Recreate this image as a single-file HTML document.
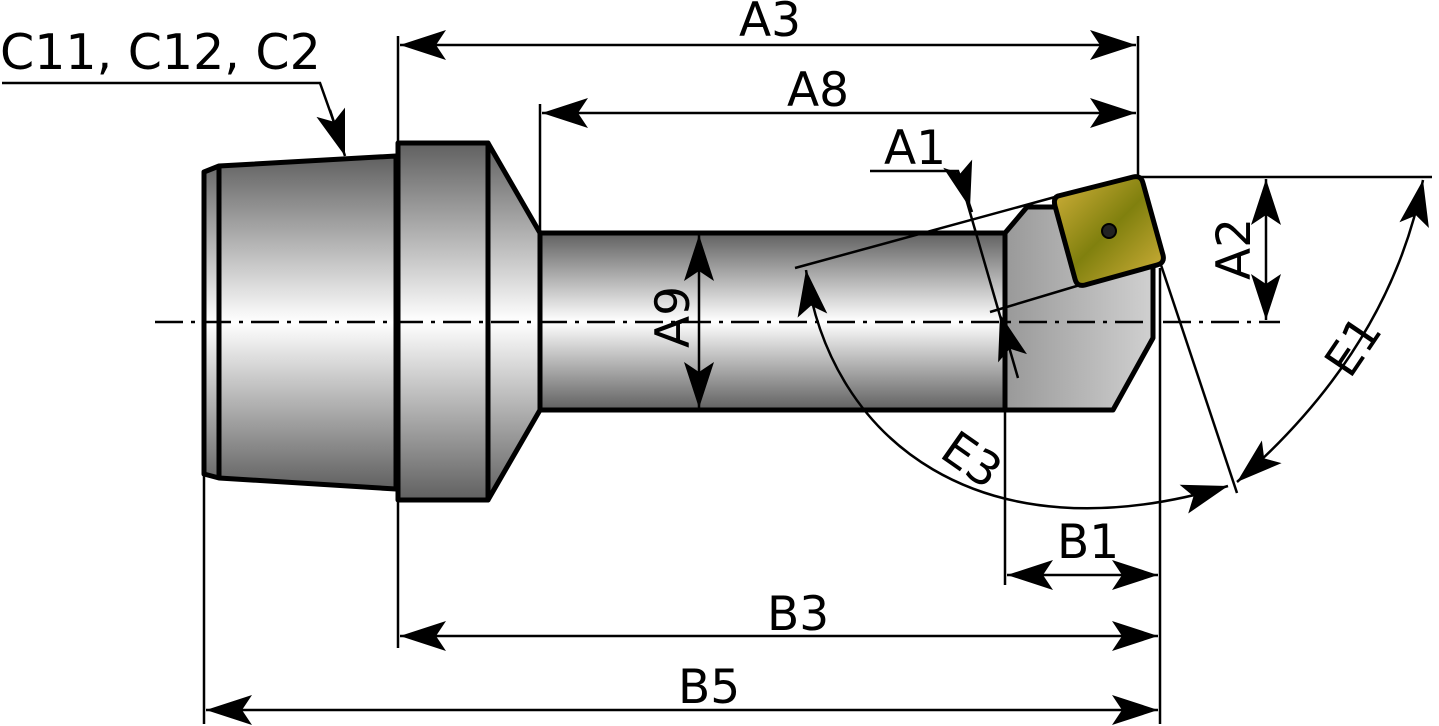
<!DOCTYPE html>
<html><head><meta charset="utf-8"><style>
html,body{margin:0;padding:0;background:#fff}
svg{display:block}
text{font-family:"DejaVu Sans","Liberation Sans",sans-serif;font-size:47px;fill:#000}
</style></head><body>
<svg width="1439" height="726" viewBox="0 0 1439 726" xmlns="http://www.w3.org/2000/svg">
<defs>
<linearGradient id="gv" x1="0" y1="0" x2="0" y2="1">
<stop offset="0" stop-color="#606060"/><stop offset="0.5" stop-color="#fff"/><stop offset="1" stop-color="#606060"/>
</linearGradient>
<linearGradient id="gh" x1="0" y1="0" x2="1" y2="0">
<stop offset="0" stop-color="#999"/><stop offset="1" stop-color="#d0d0d0"/>
</linearGradient>
<linearGradient id="gi" x1="0" y1="0" x2="1" y2="1">
<stop offset="0" stop-color="#d4b23c"/><stop offset="0.5" stop-color="#80800e"/><stop offset="1" stop-color="#d4b23c"/>
</linearGradient>
<marker id="ar" markerUnits="userSpaceOnUse" markerWidth="50" markerHeight="40" refX="0" refY="0" viewBox="-50 -20 50 40" orient="auto-start-reverse" overflow="visible">
<path d="M0,0 L-46,-15 L-36,0 L-46,15 z" fill="#000"/>
</marker>
</defs>

<g stroke="#000" stroke-width="5" stroke-linejoin="round">
<path d="M204,172 L219,166 L396,156 L396,489 L219,478 L204,474 Z" fill="url(#gv)"/>
<line x1="219" y1="166" x2="219" y2="478"/>
<rect x="398" y="143" width="90" height="357" fill="url(#gv)"/>
<path d="M488,143 L540,233 L540,410 L488,500 Z" fill="url(#gv)"/>
<rect x="540" y="233" width="465" height="177" fill="url(#gv)"/>
<path d="M1005,233 L1027,207 L1070,207 L1153,262 L1153,338 L1113,410 L1005,410 Z" fill="url(#gh)"/>
<path d="M1058,196 L1133,177 Q1141,175 1143,183 L1163,255 Q1165,263 1157,265 L1085,285 Q1077,287 1075,279 L1055,206 Q1053,198 1058,196 Z" fill="url(#gi)"/>
</g>
<circle cx="1109" cy="231" r="7" fill="#222" stroke="#000" stroke-width="2"/>

<line x1="155" y1="322" x2="1280" y2="322" stroke="#000" stroke-width="2.5" stroke-dasharray="28,8,4,8"/>

<g stroke="#000" stroke-width="2.5" fill="none">
<line x1="398" y1="36" x2="398" y2="648"/>
<line x1="1138" y1="36" x2="1138" y2="178"/>
<line x1="540" y1="104" x2="540" y2="233"/>
<line x1="204" y1="474" x2="204" y2="724"/>
<line x1="1160" y1="268" x2="1160" y2="724"/>
<line x1="1005" y1="410" x2="1005" y2="585"/>
<line x1="1138" y1="177" x2="1432" y2="177"/>
<line x1="795" y1="268" x2="1055" y2="197"/>
<line x1="990" y1="312" x2="1080" y2="285"/>
<line x1="1160" y1="262" x2="1237" y2="493"/>
<line x1="400" y1="45" x2="1136" y2="45" marker-start="url(#ar)" marker-end="url(#ar)"/>
<line x1="542" y1="113" x2="1136" y2="113" marker-start="url(#ar)" marker-end="url(#ar)"/>
<line x1="400" y1="636" x2="1158" y2="636" marker-start="url(#ar)" marker-end="url(#ar)"/>
<line x1="206" y1="710" x2="1158" y2="710" marker-start="url(#ar)" marker-end="url(#ar)"/>
<line x1="1007" y1="575" x2="1158" y2="575" marker-start="url(#ar)" marker-end="url(#ar)"/>
<line x1="699" y1="235" x2="699" y2="408" marker-start="url(#ar)" marker-end="url(#ar)"/>
<line x1="1266" y1="179" x2="1266" y2="320" marker-start="url(#ar)" marker-end="url(#ar)"/>
<polyline points="2,83 320,83 336,128"/>
<line x1="330" y1="110" x2="345" y2="156" marker-end="url(#ar)"/>
<polyline points="870,171 958,171 972,212"/>
<line x1="958" y1="171" x2="1018" y2="378"/>
<line x1="940" y1="100" x2="970" y2="208" stroke="none" marker-end="url(#ar)"/>
<line x1="1030" y1="420" x2="1000" y2="314" stroke="none" marker-end="url(#ar)"/>
<path d="M1423,180 Q1390,349 1237,482" marker-start="url(#ar)" marker-end="url(#ar)"/>
<path d="M806,270 C830,440 980,560 1228,486" marker-start="url(#ar)" marker-end="url(#ar)"/>
</g>

<text x="0" y="69" style="font-size:49px">C11, C12, C2</text>
<text x="739" y="36">A3</text>
<text x="787" y="106">A8</text>
<text x="884" y="164">A1</text>
<text x="1057" y="558">B1</text>
<text x="767" y="630">B3</text>
<text x="678" y="703">B5</text>
<text transform="translate(689,348) rotate(-90)">A9</text>
<text transform="translate(1250,280) rotate(-90)">A2</text>
<text transform="translate(1350,380) rotate(-56)">E1</text>
<text transform="translate(938,456) rotate(35)">E3</text>
</svg>
</body></html>
